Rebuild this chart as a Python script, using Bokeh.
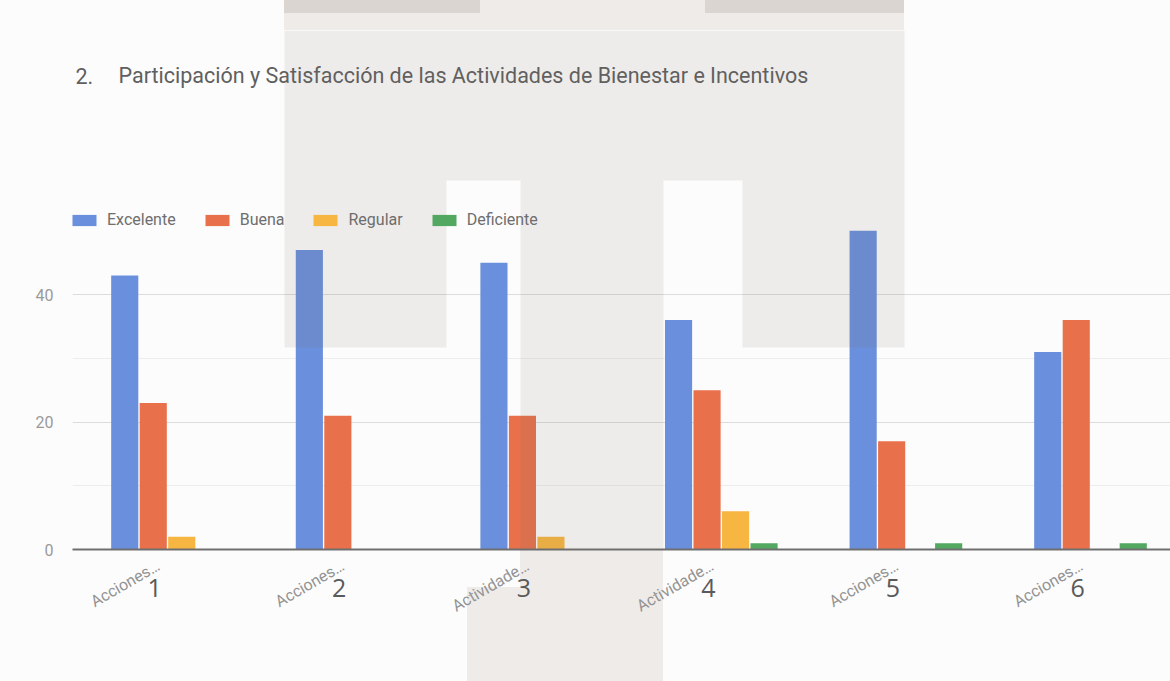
import numpy as np
from bokeh.plotting import figure
from bokeh.models import (Range1d, FixedTicker, Legend, LegendItem, LinearAxis,
                          Label, PolyAnnotation, ColumnDataSource)
from bokeh.transform import dodge
from bokeh.embed import file_html
from bokeh.resources import INLINE

# ---------------- data ----------------
categories = ["Acciones…", "Acciones…", "Actividade…", "Actividade…", "Acciones…", "Acciones…"]
numbers = ["1", "2", "3", "4", "5", "6"]
series = ["Excelente", "Buena", "Regular", "Deficiente"]
excelente = [43, 47, 45, 36, 50, 31]
buena = [23, 21, 21, 25, 17, 36]
regular = [2, 0, 2, 6, 0, 0]
deficiente = [0, 0, 0, 1, 1, 1]
y_ticks = [0, 20, 40]
y_minor = [10, 30]
title_num = "2."
title_text = "Participación y Satisfacción de las Actividades de Bienestar e Incentivos"

# ---------------- style ----------------
colors = ["#6a8fdc", "#e8714c", "#f7b542", "#52a861"]
FONT = "Roboto"
NUM_FONT = "Open Sans"
W, H = 1170, 681
FL, FR, FT, FB = 72, 1170, 30, 549           # frame edges (pixels)
PX_PER_GROUP = 184.6
PX_PER_UNIT = 6.375
X0 = -(167 - FL) / PX_PER_GROUP
X1 = X0 + (FR - FL) / PX_PER_GROUP
Y1 = (FB - FT) / PX_PER_UNIT
NUM_SHIFT = 0.07
CAT_SHIFT = 0.05


def sx(px):
    return X0 + (px - FL) / PX_PER_GROUP


def sy(py):
    return (FB - py) / PX_PER_UNIT


# watermark (decoration): outside the plot area as page background ...
LIGHT, DARK = "#eeebe9", "#dbd5d2"
wm_boxes = [  # (colour, left, top, width, height)
    (DARK, 284, 0, 196, 13), (DARK, 705, 0, 199, 13),
    (LIGHT, 284, 0, 620, FT), (LIGHT, 520, FB, 143, H - FB),
    (LIGHT, 467, 587, 53, H - 587),
]
bg = ", ".join(f"linear-gradient({c},{c}) {l}px {t}px / {w}px {h}px no-repeat"
               for c, l, t, w, h in wm_boxes) + ", #fcfcfc"
# ... and inside it as a translucent overlay (it tints the bars too)
WM_COLOR, WM_ALPHA = "#7a6a62", 0.11
wm_poly = [(284, FT), (904, FT), (904, 347), (742, 347), (742, 180), (663, 180),
           (663, 560), (520, 560), (520, 180), (446, 180), (446, 347), (284, 347)]

src = ColumnDataSource(dict(x=list(range(len(categories))), Excelente=excelente,
                            Buena=buena, Regular=regular, Deficiente=deficiente))

p = figure(width=W, height=H, output_backend="svg", toolbar_location=None,
           x_range=Range1d(X0, X1), y_range=Range1d(0, Y1),
           min_border_left=FL, min_border_right=W - FR,
           min_border_top=FT, min_border_bottom=H - FB)
p.styles = {"background": bg}
p.background_fill_alpha = 0
p.border_fill_alpha = 0
p.outline_line_color = None

slot = 0.1544
bw = 0.147
renderers = []
for i, s in enumerate(series):
    r = p.vbar(x=dodge("x", (i - 1.5) * slot, range=p.x_range), top=s, width=bw,
               source=src, fill_color=colors[i], line_color=None)
    renderers.append(r)

p.extra_x_ranges = {"cat": Range1d(X0 + CAT_SHIFT, X1 + CAT_SHIFT),
                    "num": Range1d(X0 + NUM_SHIFT, X1 + NUM_SHIFT)}

# category axis
xa = p.xaxis[0]
xa.x_range_name = "cat"
xa.ticker = FixedTicker(ticks=list(range(len(categories))))
xa.major_label_overrides = {i: c for i, c in enumerate(categories)}
xa.major_label_orientation = np.pi / 6
xa.major_label_text_font = FONT
xa.major_label_text_font_size = "16px"
xa.major_label_text_color = "#939393"
xa.major_label_standoff = 15
xa.major_tick_line_color = None
xa.minor_tick_line_color = None
xa.major_tick_out = 0
xa.major_tick_in = 0
xa.axis_line_color = "#6f6f6f"
xa.axis_line_width = 2

# numbers under the categories
na = LinearAxis(x_range_name="num", ticker=FixedTicker(ticks=list(range(len(numbers)))),
                major_label_overrides={i: n for i, n in enumerate(numbers)},
                major_label_text_font=NUM_FONT, major_label_text_font_size="25px",
                major_label_text_color="#5a5a5a", major_label_standoff=-48,
                axis_line_color=None, major_tick_line_color=None,
                minor_tick_line_color=None, major_tick_out=0, major_tick_in=0)
p.add_layout(na, "below")

# value axis
ya = p.yaxis[0]
ya.ticker = FixedTicker(ticks=y_ticks, minor_ticks=y_minor)
ya.major_label_text_font = FONT
ya.major_label_text_font_size = "16px"
ya.major_label_text_color = "#9a9a9a"
ya.major_label_standoff = 15
ya.major_tick_line_color = None
ya.minor_tick_line_color = None
ya.major_tick_out = 0
ya.major_tick_in = 0
ya.axis_line_color = None

p.xgrid.visible = False
p.ygrid.grid_line_color = "#dcdcdc"
p.ygrid.minor_grid_line_color = "#ededed"

# title (inside the tall plot area, above the bars)
for txt, px in [(title_num, 75), (title_text, 118)]:
    p.add_layout(Label(x=sx(px), y=sy(75), text=txt, text_baseline="middle",
                       text_font=FONT, text_font_size="21.5px",
                       text_color="#5f5f5f"))

# legend row above the bars
legend = Legend(items=[LegendItem(label=s, renderers=[r]) for s, r in zip(series, renderers)],
                location=(-3, FB - 208 - 21), orientation="horizontal",
                glyph_width=30, glyph_height=14, label_height=14,
                label_standoff=8, spacing=26, padding=1, margin=0,
                label_text_font=FONT, label_text_font_size="16px",
                label_text_color="#6e6e6e", border_line_color=None,
                background_fill_alpha=0)
p.add_layout(legend)

p.add_layout(PolyAnnotation(xs=[sx(a) for a, b in wm_poly], ys=[sy(b) for a, b in wm_poly],
                            fill_color=WM_COLOR, fill_alpha=WM_ALPHA, line_color=None,
                            level="overlay"))

open("out.html", "w").write(file_html(p, INLINE))
